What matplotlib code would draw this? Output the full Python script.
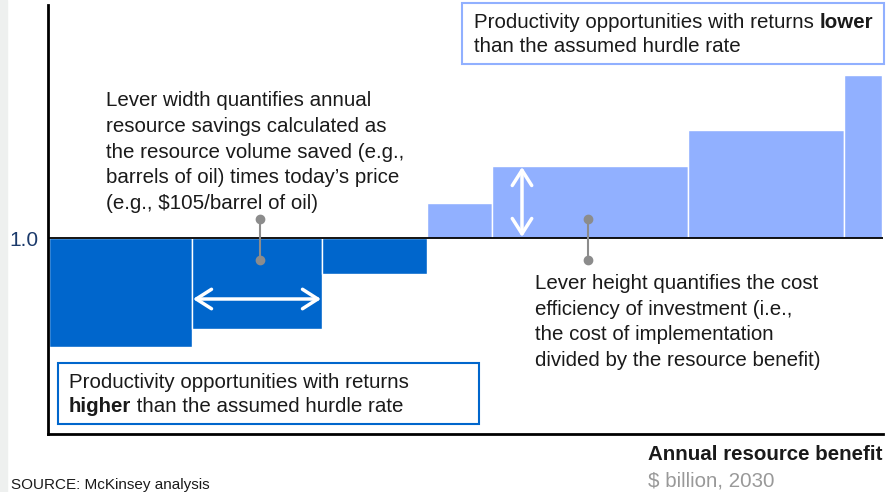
import matplotlib
matplotlib.use('Agg')
import matplotlib.pyplot as plt
from matplotlib.patches import Rectangle

plt.rcParams['font.family'] = ['Liberation Sans', 'DejaVu Sans']

# lever widths ($ billion) and cost efficiency (1.0 = hurdle rate)
widths = [14.3, 13.0, 10.5, 6.5, 19.6, 15.6, 3.8]
heights = [0.455, 0.545, 0.82, 1.175, 1.36, 1.54, 1.815]
hurdle = 1.0

dark_blue = '#0066CC'
light_blue = '#91B0FF'
text_col = '#1a1a1a'

W, H = 886, 492
fig = plt.figure(figsize=(W / 100, H / 100), dpi=100)

def fx(px):
    return px / W

def fy(py):
    return 1 - py / H

# grey strip on the left edge
fig.patches.append(Rectangle((0, 0), fx(7), 1, transform=fig.transFigure,
                             color='#eef0ef', zorder=0))

ax = fig.add_axes([fx(48), fy(434), fx(883) - fx(48), fy(5) - fy(434)])

lefts = []
pos = 0.0
for w in widths:
    lefts.append(pos)
    pos += w

colors = [dark_blue if h < hurdle else light_blue for h in heights]
ax.bar(lefts, [h - hurdle for h in heights], width=widths, bottom=hurdle,
       align='edge', color=colors, edgecolor='white', linewidth=1, zorder=2)
ax.axhline(hurdle, color='black', lw=1.3, zorder=3)

ax.set_xlim(-0.1, 83.4)
ax.set_ylim(0.02, 2.165)
for s in ['top', 'right']:
    ax.spines[s].set_visible(False)
ax.spines['left'].set_linewidth(2)
ax.spines['bottom'].set_linewidth(2)
ax.set_xticks([])
ax.set_yticks([hurdle])
ax.set_yticklabels(['1.0'])
ax.tick_params(axis='y', length=0, pad=7, labelsize=15, labelcolor='#1b3a6b')

arrow_style = dict(arrowstyle='<->,head_length=0.55,head_width=0.35', color='white',
                   lw=2.5, mutation_scale=20, shrinkA=0, shrinkB=0)
# width arrow across the second lever
ax.annotate('', xy=(lefts[1] + 0.1, 0.695), xytext=(lefts[1] + widths[1] - 0.1, 0.695),
            arrowprops=arrow_style, zorder=4)
# height arrow on the fifth lever
ax.annotate('', xy=(lefts[4] + 3.0, 1.355), xytext=(lefts[4] + 3.0, 1.005),
            arrowprops=arrow_style, zorder=4)

# grey connectors
for cx in [lefts[1] + 6.8, lefts[4] + 9.6]:
    ax.plot([cx, cx], [1.095, 0.89], color='#8c8c8c', lw=1.5, zorder=5,
            marker='o', markersize=6, clip_on=False)

fs = 14.8
fig.text(fx(106), fy(91), "Lever width quantifies annual\nresource savings calculated as\n"
         "the resource volume saved (e.g.,\nbarrels of oil) times today\u2019s price\n"
         "(e.g., $105/barrel of oil)", fontsize=fs, color=text_col, va='top',
         ha='left', linespacing=1.45)
fig.text(fx(535), fy(274), "Lever height quantifies the cost\nefficiency of investment (i.e.,\n"
         "the cost of implementation\ndivided by the resource benefit)",
         fontsize=fs, color=text_col, va='top', ha='left', linespacing=1.45)

# boxes
fig.patches.append(Rectangle((fx(462), fy(64)), fx(884) - fx(462), fy(3) - fy(64),
                             transform=fig.transFigure, fill=True, facecolor='white',
                             edgecolor=light_blue, lw=1.5, zorder=6))
fig.patches.append(Rectangle((fx(58), fy(424)), fx(479) - fx(58), fy(363) - fy(424),
                             transform=fig.transFigure, fill=True, facecolor='white',
                             edgecolor=dark_blue, lw=1.5, zorder=6))

fig.canvas.draw()
renderer = fig.canvas.get_renderer()

t1 = fig.text(fx(474), fy(22), "Productivity opportunities with returns ", fontsize=fs,
              color=text_col, va='center', zorder=7)
bb = t1.get_window_extent(renderer)
fig.text(bb.x1 / W, fy(22), "lower", fontsize=fs, color=text_col, fontweight='bold',
         va='center', zorder=7)
fig.text(fx(474), fy(46), "than the assumed hurdle rate", fontsize=fs, color=text_col,
         va='center', zorder=7)

fig.text(fx(69), fy(382), "Productivity opportunities with returns", fontsize=fs,
         color=text_col, va='center', zorder=7)
t2 = fig.text(fx(69), fy(407), "higher", fontsize=fs, color=text_col, fontweight='bold',
              va='center', zorder=7)
bb = t2.get_window_extent(renderer)
fig.text(bb.x1 / W, fy(407), " than the assumed hurdle rate", fontsize=fs, color=text_col,
         va='center', zorder=7)

# axis title
fig.text(fx(883), fy(455), "Annual resource benefit", fontsize=fs, fontweight='bold',
         color=text_col, ha='right', va='center')
fig.text(fx(648), fy(481), "$ billion, 2030", fontsize=fs, color='#999999',
         ha='left', va='center')

fig.text(fx(11), fy(485), "SOURCE: McKinsey analysis", fontsize=11, color=text_col,
         ha='left', va='center')

fig.savefig('out.png', dpi=100)
